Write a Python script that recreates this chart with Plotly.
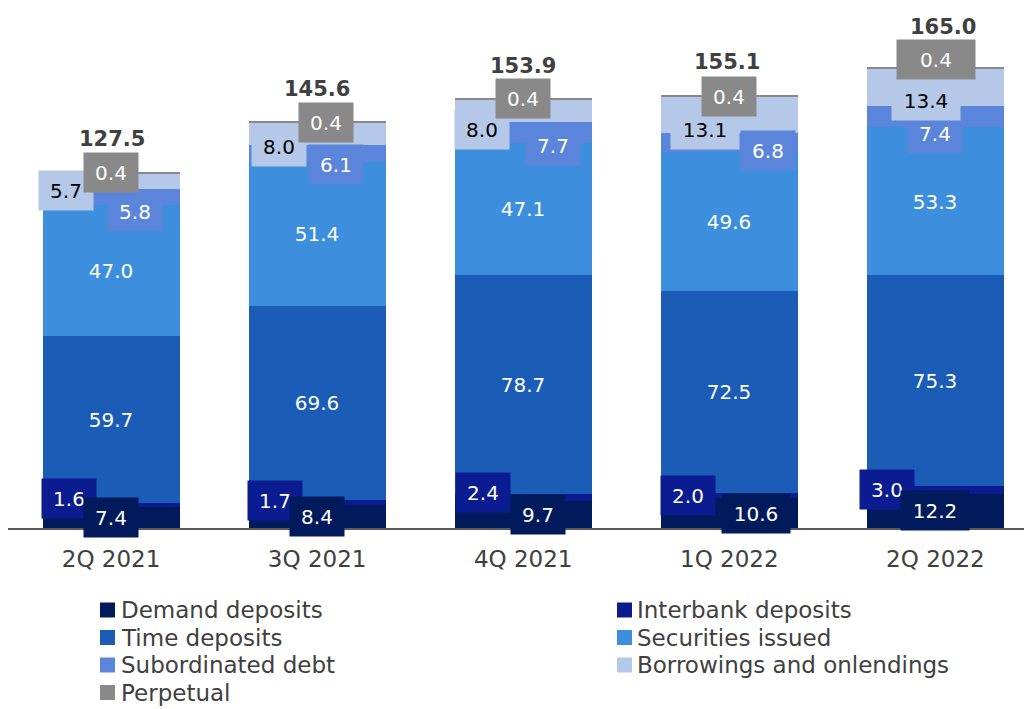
import plotly.graph_objects as go

# Funding breakdown by quarter (R$ billion)
quarters = ["2Q 2021", "3Q 2021", "4Q 2021", "1Q 2022", "2Q 2022"]
demand = [7.4, 8.4, 9.7, 10.6, 12.2]
interbank = [1.6, 1.7, 2.4, 2.0, 3.0]
time_dep = [59.7, 69.6, 78.7, 72.5, 75.3]
securities = [47.0, 51.4, 47.1, 49.6, 53.3]
subordinated = [5.8, 6.1, 7.7, 6.8, 7.4]
borrowings = [5.7, 8.0, 8.0, 13.1, 13.4]
perpetual = [0.4, 0.4, 0.4, 0.4, 0.4]
totals = [127.5, 145.6, 153.9, 155.1, 165.0]

FONT = "DejaVu Sans, Liberation Sans, Arial, sans-serif"
GREY_TXT = "#404040"

W, H = 1024, 709
M_L, M_R, M_T, M_B = 8, 0, 0, 181
PLOT_W, PLOT_H = W - M_L - M_R, H - M_T - M_B

# name, values, colour, label text colour, legend column,
# label nudges in px (dx right, dy down) per bar
series = [
    ("Demand deposits", demand, "#001A5C", "white", 0,
     [(0, 0), (0, 0), (15, 0), (27, 0), (0, 0)]),
    ("Interbank deposits", interbank, "#0A1C8F", "white", 1,
     [(-42, -7), (-42, -2), (-40, -5), (-41, 0), (-48, 0)]),
    ("Time deposits", time_dep, "#1B5CB6", "white", 0,
     [(0, 0)] * 5),
    ("Securities issued", securities, "#3D8EDC", "white", 1,
     [(0, 0)] * 5),
    ("Subordinated debt", subordinated, "#5B85DA", "white", 0,
     [(24, 14), (19, 11), (30, 13), (39, 8), (0, 17)]),
    ("Borrowings and onlendings", borrowings, "#B5C8E8", "black", 1,
     [(-45, 10), (-38, 13), (-41, 19), (-24, 15), (-9, 13)]),
    ("Perpetual", perpetual, "#898989", "white", 0,
     [(0, 0), (9, 0), (0, 0), (0, 0), (1, -9)]),
]
total_nudge = [(1, 0), (0, 0), (0, 0), (-2, 0), (8, -8)]
# the last perpetual box is drawn a little wider
perpetual_box_extra = [0, 0, 0, 0, 24]

# draw order of value boxes (later ones sit on top)
label_order = [1, 0, 2, 3, 4, 5, 6]

fig = go.Figure()
for name, vals, color, *_ in series:
    fig.add_trace(go.Bar(
        x=quarters, y=vals, name=name,
        marker=dict(color=color, line=dict(width=0)),
        hoverinfo="skip", showlegend=False,
    ))

# running base of each segment in the stack
bases = []
running = [0.0] * len(quarters)
for _, vals, *_ in series:
    bases.append(list(running))
    running = [r + v for r, v in zip(running, vals)]

annotations = []
for si in label_order:
    name, vals, color, tcolor, _, nudges = series[si]
    for j, q in enumerate(quarters):
        txt = f"{vals[j]:.1f}"
        dx, dy = nudges[j]
        extra = perpetual_box_extra[j] if name == "Perpetual" else 0
        annotations.append(dict(
            x=q, y=bases[si][j] + vals[j] / 2, xref="x", yref="y",
            text=txt, showarrow=False,
            font=dict(family=FONT, size=20, color=tcolor),
            bgcolor=color, borderpad=7,
            width=14 * len(txt) - 2 + extra, height=25,
            xshift=dx, yshift=-dy,
        ))

for j, q in enumerate(quarters):
    dx, dy = total_nudge[j]
    annotations.append(dict(
        x=q, y=totals[j], xref="x", yref="y",
        text=f"<b>{totals[j]:.1f}</b>", showarrow=False,
        yanchor="bottom",
        font=dict(family=FONT, size=21, color=GREY_TXT),
        xshift=dx, yshift=19 - dy,
    ))

# two-column key below the chart
def px_x(px):
    return (px - M_L) / PLOT_W


def px_y(py):
    return (PLOT_H - (py - M_T)) / PLOT_H


key_cols = [(100, 120), (617, 636)]  # square left edge, text start (px)
key_rows = [610, 637.5, 665, 692.5]  # row centres (px)
SQ = 15
shapes = []
row_count = [0, 0]
for name, vals, color, _, col, _ in series:
    r = row_count[col]
    row_count[col] += 1
    sq_x, tx = key_cols[col]
    cy = key_rows[r]
    shapes.append(dict(
        type="rect", xref="paper", yref="paper",
        x0=px_x(sq_x), x1=px_x(sq_x + SQ),
        y0=px_y(cy + SQ / 2), y1=px_y(cy - SQ / 2),
        fillcolor=color, line=dict(width=0),
    ))
    annotations.append(dict(
        x=px_x(tx), y=px_y(cy), xref="paper", yref="paper",
        xanchor="left", yanchor="middle", showarrow=False,
        text=name, borderpad=0,
        font=dict(family=FONT, size=23, color=GREY_TXT),
    ))

fig.update_layout(
    width=W, height=H,
    margin=dict(l=M_L, r=M_R, t=M_T, b=M_B),
    barmode="stack", bargap=0.335,
    plot_bgcolor="white", paper_bgcolor="white",
    font=dict(family=FONT, color=GREY_TXT),
    showlegend=False,
    annotations=annotations,
    shapes=shapes,
    xaxis=dict(
        type="category", range=[-0.5, 4.43],
        showline=True, linecolor="#595959", linewidth=2,
        ticks="", showgrid=False, zeroline=False, automargin=False,
        tickfont=dict(family=FONT, size=23, color=GREY_TXT),
        ticklabelstandoff=9,
    ),
    yaxis=dict(
        range=[0, 189.2], visible=False, showgrid=False, zeroline=False,
    ),
)

fig.write_html("out.html")
